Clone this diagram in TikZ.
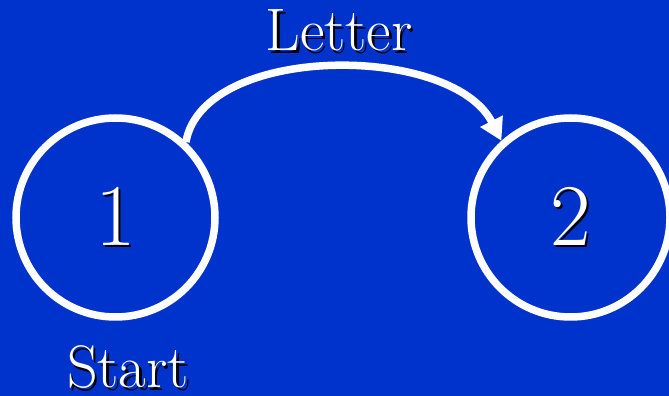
\documentclass[tikz,border=0pt]{standalone}
\usetikzlibrary{arrows.meta}
\definecolor{bgblue}{RGB}{0,51,204}
\newcommand\shtext[1]{\rlap{\hspace{2.5pt}\raisebox{-2.5pt}{\color{black}#1}}#1}
\begin{document}
\begin{tikzpicture}[x=1pt,y=1pt,
  state/.style={circle,draw=white,line width=7.5pt,minimum size=199pt,inner sep=0pt,text=white,font=\rmfamily\fontsize{88}{88}\selectfont},
  lbl/.style={text=white,font=\rmfamily\fontsize{60}{60}\selectfont,anchor=base,inner sep=0pt},
  trans/.style={draw=white,line width=7.5pt,-{Triangle[length=22pt,width=24pt]}}]
\fill[bgblue] (0,0) rectangle (669,396);
\useasboundingbox (0,0) rectangle (669,396);
\node[state] (n1) at (115.5,178.5) {\shtext{1}};
\node[state] (n2) at (570.5,178.5) {\shtext{2}};
\node[lbl] (lt) at (339,345) {\shtext{Letter}};
\node[lbl] (st) at (128,8) {\shtext{Start}};
\draw[trans] (n1.47) .. controls +(80:100) and +(117:110) .. (n2.132);
\end{tikzpicture}
\end{document}
